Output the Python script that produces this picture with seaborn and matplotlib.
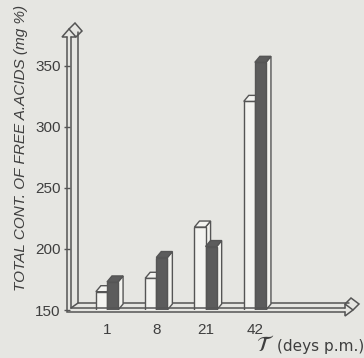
import numpy as np
import pandas as pd
import matplotlib
matplotlib.use('Agg')
import matplotlib.pyplot as plt
import seaborn as sns
from matplotlib.transforms import Affine2D
from matplotlib.patches import Polygon
from matplotlib.lines import Line2D

## data
days = ['1', '8', '21', '42']
light_vals = [165, 176, 218, 321]   # open bars
dark_vals = [173, 193, 202, 353]    # shaded bars
yticks = [150, 200, 250, 300, 350]

## colours
bg = '#e6e6e2'
light_c = '#f3f3ef'
dark_c = '#5c5c5c'
line_c = '#555555'

W, H = 364, 358

sns.set_theme(style='white')
plt.rcParams['font.family'] = ['Liberation Sans', 'DejaVu Sans']

fig = plt.figure(figsize=(W / 100, H / 100), dpi=100, facecolor=bg)
# axes box in pixels: left 67, right 350, top 30, bottom 310
ax = fig.add_axes([67 / W, (H - 310) / H, (350 - 67) / W, (310 - 30) / H])
ax.set_facecolor('none')

df = pd.DataFrame({
    'day': days * 2,
    'val': light_vals + dark_vals,
    'grp': ['a'] * len(days) + ['b'] * len(days),
})
sns.barplot(data=df, x='day', y='val', hue='grp', palette=[light_c, dark_c],
            width=0.45, gap=0, edgecolor=line_c, linewidth=1.0,
            legend=False, errorbar=None, ax=ax)

ax.set_xlim(-0.811, 4.93)
ax.set_ylim(150, 379.5)

# pixel transform (y from top) drawn inside the axes
T = Affine2D().scale(1 / W, -1 / H).translate(0, 1) + fig.transFigure

## 3D faces on every bar: offset of 5px right, 6px up
fig.canvas.draw()
p0 = ax.transData.transform((0, 150))
p1 = ax.transData.transform((1, 250))
dx = 5 / (p1[0] - p0[0])
dy = 6 * 100 / (p1[1] - p0[1])

bars = sorted(ax.patches, key=lambda r: r.get_x())
for i, r in enumerate(bars):
    x0 = r.get_x()
    x1 = x0 + r.get_width()
    top = r.get_height()
    fc = r.get_facecolor()
    z = 2 + i * 0.1
    r.set_zorder(z + 0.02)
    side = Polygon([(x1, 150), (x1, top), (x1 + dx, top + dy), (x1 + dx, 150 + dy)],
                   closed=True, facecolor=light_c, edgecolor=line_c, lw=1.0, zorder=z + 0.01)
    cap = Polygon([(x0, top), (x0 + dx, top + dy), (x1 + dx, top + dy), (x1, top)],
                  closed=True, facecolor=fc, edgecolor=line_c, lw=1.0, zorder=z + 0.03)
    ax.add_patch(side)
    ax.add_patch(cap)

## 3D axis frame (drawn in pixels)
def pline(pts, z=1.5):
    xs, ys = zip(*pts)
    ax.add_line(Line2D(xs, ys, transform=T, color=line_c, lw=1.1,
                       clip_on=False, zorder=z, solid_joinstyle='miter'))

pline([(67, 37), (67, 312), (345, 312)], z=5)
pline([(71, 37), (71, 308), (345, 308)], z=5)
pline([(78, 32), (78, 303), (349, 303)], z=1)
pline([(71, 308), (78, 303)], z=5)
# upward arrow head
pline([(67, 37), (62, 37), (69, 29), (76, 37), (71, 37)], z=5)
pline([(69, 29), (75, 23), (82, 31), (76, 37)], z=5)
# right arrow head
pline([(345, 312), (345, 316), (353, 310), (345, 304), (345, 308)], z=5)
pline([(345, 304), (351, 298), (359, 304), (353, 310)], z=5)

sns.despine(ax=ax, left=True, bottom=True)
ax.set_yticks(yticks)
ax.set_yticklabels([str(t) for t in yticks])
ax.tick_params(axis='y', direction='inout', length=5, width=1.0, color=line_c,
               pad=2, labelsize=11, labelcolor='#3f3f3f', left=True)
ax.tick_params(axis='x', length=0, pad=9, labelsize=11, labelcolor='#3f3f3f')
ax.set_xlabel('')
ax.set_ylabel('')
ax.grid(False)

fig.text(21 / W, 1 - 148 / H, 'TOTAL CONT. OF FREE A.ACIDS (mg %)', rotation=90,
         ha='center', va='center', fontsize=11, style='italic', color='#3f3f3f')
fig.text(256 / W, 1 - 351 / H, r'$\mathcal{T}$', ha='left', va='baseline',
         fontsize=16, color='#3f3f3f')
fig.text(277 / W, 1 - 346 / H, '(deys p.m.)', ha='left', va='center',
         fontsize=11, color='#3f3f3f', family=['DejaVu Sans'])

fig.savefig('out.png', dpi=100, facecolor=bg)
